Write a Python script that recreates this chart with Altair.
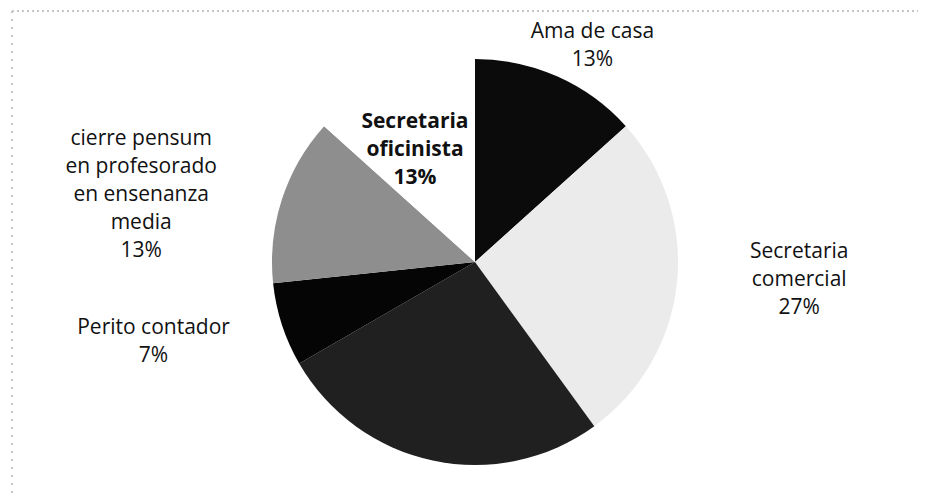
import altair as alt
import pandas as pd

# ---- data ----
categories = [
    "Ama de casa",
    "Secretaria comercial",
    "Otra",
    "Perito contador",
    "cierre pensum en profesorado en ensenanza media",
    "Secretaria oficinista",
]
counts = [2, 4, 4, 1, 2, 2]
label_lines = [
    "Ama de casa",
    "Secretaria\ncomercial",
    "",
    "Perito contador",
    "cierre pensum\nen profesorado\nen ensenanza\nmedia",
    "Secretaria\noficinista",
]
colors = ["#0b0b0b", "#ebebeb", "#202020", "#050505", "#8e8e8e", "#ffffff"]

total = sum(counts)
pcts = [round(100 * c / total) for c in counts]
labels = [f"{t}\n{p}%" if t else "" for t, p in zip(label_lines, pcts)]

df = pd.DataFrame({
    "idx": list(range(len(categories))),
    "cat": categories,
    "count": counts,
    "label": labels,
})

CX, CY = 467, 254
FONT = "Open Sans"
LH = 28
theta_scale = alt.Scale(domain=[0, total])

pie = alt.Chart(df).mark_arc(outerRadius=203).encode(
    theta=alt.Theta("count:Q", stack=True, scale=theta_scale),
    color=alt.Color("cat:N", scale=alt.Scale(domain=categories, range=colors), legend=None),
    order=alt.Order("idx:Q"),
    x=alt.value(CX),
    y=alt.value(CY),
)

def label_layer(name, radius, nlines, dx=0, dy=0, bold=False):
    return alt.Chart(df).transform_stack(
        stack="count", groupby=[], as_=["s0", "s1"], sort=[alt.SortField("idx")]
    ).transform_calculate(
        mid="(datum.s0 + datum.s1) / 2"
    ).transform_filter(
        alt.datum.cat == name
    ).mark_text(
        radius=radius, dx=dx, dy=dy - (nlines - 1) * LH / 2,
        align="center", baseline="middle",
        lineBreak="\n", lineHeight=LH, font=FONT, fontSize=21,
        fontWeight="bold" if bold else "normal", color="#111111",
    ).encode(
        theta=alt.Theta("mid:Q", scale=theta_scale),
        text="label:N",
        x=alt.value(CX),
        y=alt.value(CY),
    )

texts = [
    label_layer("Ama de casa", 237, 2, dx=21, dy=1),
    label_layer("Secretaria comercial", 326, 3, dy=-16),
    label_layer("Perito contador", 338, 2, dy=-24),
    label_layer("cierre pensum en profesorado en ensenanza media", 351, 5, dy=41),
    label_layer("Secretaria oficinista", 123, 3, dx=-10, bold=True),
]

frame_top = alt.Chart(df).mark_rule(color="#c4c4c4", strokeDash=[2, 3], strokeWidth=1).encode(
    x=alt.value(4), x2=alt.value(910), y=alt.value(3)
)
frame_left = alt.Chart(df).mark_rule(color="#c4c4c4", strokeDash=[2, 6], strokeWidth=1).encode(
    x=alt.value(4), y=alt.value(3), y2=alt.value(488)
)

chart = alt.layer(
    frame_top, frame_left, pie, *texts,
    view=alt.ViewBackground(stroke="transparent", strokeWidth=0),
).properties(
    width=910, height=488,
    autosize=alt.AutoSizeParams(type="fit", contains="padding"),
    padding=0,
).configure_view(strokeWidth=0, stroke="transparent").configure(background="white")

chart.save("out.html", embed_options={"renderer": "svg", "actions": False})
